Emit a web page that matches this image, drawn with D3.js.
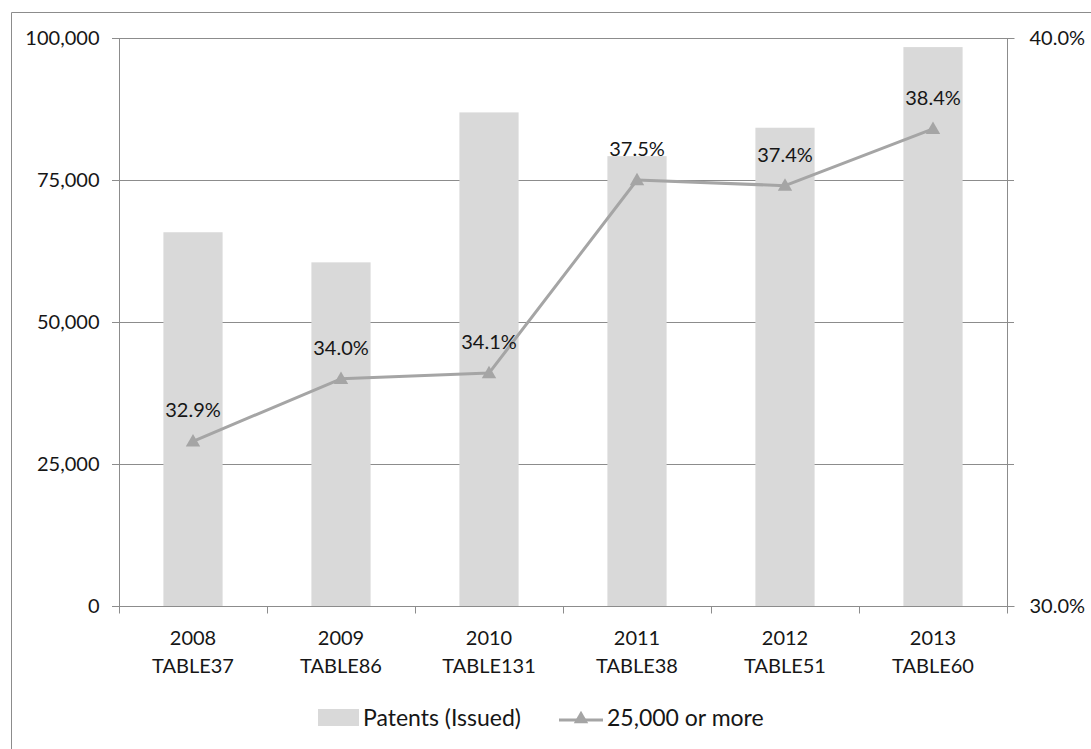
<!DOCTYPE html>
<html>
<head>
<meta charset="utf-8">
<script src="https://cdn.jsdelivr.net/npm/d3@7"></script>
<style>
  html, body { margin: 0; padding: 0; background: #fff; }
  svg { display: block; font-family: Lato, "Open Sans", sans-serif; }
</style>
</head>
<body>
<svg id="chart" width="1091" height="749"></svg>
<script>
// Patents issued per year and share of "25,000 or more"
const years = ["2008", "2009", "2010", "2011", "2012", "2013"];
const tables = ["TABLE37", "TABLE86", "TABLE131", "TABLE38", "TABLE51", "TABLE60"];
const patentsIssued = [65800, 60500, 86900, 79200, 84200, 98400];
const share25kOrMore = [32.9, 34.0, 34.1, 37.5, 37.4, 38.4];
const leftTicks = [0, 25000, 50000, 75000, 100000];
const rightTicks = [30, 40];
const legendLabels = ["Patents (Issued)", "25,000 or more"];

const svg = d3.select("#chart");
const plot = { left: 119, top: 38, right: 1007, bottom: 606 };

const barColor = "#d9d9d9";
const lineColor = "#a5a5a5";
const gridColor = "#8c8c8c";
const textColor = "#161616";
const fontSize = 20;
const legendFont = 23;

// outer chart frame (left and top edges)
svg.append("path")
  .attr("d", `M11.5,749 V12.5 H1091`)
  .attr("fill", "none").attr("stroke", "#8c8c8c").attr("stroke-width", 1);

const x = d3.scaleBand().domain(years).range([plot.left, plot.right]).paddingInner(0.6).paddingOuter(0.3);
const yL = d3.scaleLinear().domain([0, 100000]).range([plot.bottom, plot.top]);
const yR = d3.scaleLinear().domain([30, 40]).range([plot.bottom, plot.top]);

// horizontal gridlines
svg.append("g").selectAll("line").data(leftTicks.filter(d => d > 0)).join("line")
  .attr("x1", plot.left - 7).attr("x2", plot.right + 7)
  .attr("y1", d => Math.round(yL(d)) + 0.5).attr("y2", d => Math.round(yL(d)) + 0.5)
  .attr("stroke", gridColor).attr("stroke-width", 1);

// bars
svg.append("g").selectAll("rect").data(patentsIssued).join("rect")
  .attr("x", (d, i) => x(years[i]))
  .attr("width", x.bandwidth())
  .attr("y", d => yL(d))
  .attr("height", d => yL(0) - yL(d))
  .attr("fill", barColor);

// left axis
const leftAxis = d3.axisLeft(yL).tickValues(leftTicks).tickSize(7).tickPadding(13)
  .tickFormat(d3.format(","));
const gL = svg.append("g").attr("transform", `translate(${plot.left + 0.5},0)`).call(leftAxis);
gL.select(".domain").attr("stroke", gridColor).attr("d", `M0,${plot.top}V${plot.bottom}`);
gL.selectAll(".tick line").attr("stroke", gridColor);
gL.selectAll("text").attr("fill", textColor).attr("font-size", fontSize).attr("font-family", "Lato, sans-serif");

// right axis
const rightAxis = d3.axisRight(yR).tickValues(rightTicks).tickSize(7).tickPadding(15)
  .tickFormat(d => d.toFixed(1) + "%");
const gR = svg.append("g").attr("transform", `translate(${plot.right + 0.5},0)`).call(rightAxis);
gR.select(".domain").attr("stroke", gridColor).attr("d", `M0,${plot.top}V${plot.bottom}`);
gR.selectAll(".tick line").attr("stroke", gridColor);
gR.selectAll("text").attr("fill", textColor).attr("font-size", fontSize).attr("font-family", "Lato, sans-serif");

// bottom axis with ticks at category boundaries
const gB = svg.append("g").attr("transform", `translate(0,${plot.bottom + 0.5})`);
gB.append("line").attr("x1", plot.left - 7).attr("x2", plot.right + 7).attr("y1", 0).attr("y2", 0)
  .attr("stroke", gridColor);
const boundaries = d3.range(years.length + 1).map(i => plot.left + i * (plot.right - plot.left) / years.length);
gB.selectAll("line.tk").data(boundaries).join("line").attr("class", "tk")
  .attr("x1", d => Math.round(d) + 0.5).attr("x2", d => Math.round(d) + 0.5)
  .attr("y1", 0).attr("y2", 7).attr("stroke", gridColor);
const lbl = gB.selectAll("text").data(years).join("text")
  .attr("text-anchor", "middle")
  .attr("fill", textColor).attr("font-size", fontSize)
  .attr("transform", d => `translate(${x(d) + x.bandwidth() / 2},0)`);
lbl.append("tspan").attr("x", 0).attr("y", 38).text(d => d);
lbl.append("tspan").attr("x", 0).attr("y", 66).text((d, i) => tables[i]);

// share line
const cx = (d, i) => x(years[i]) + x.bandwidth() / 2;
const line = d3.line().x(cx).y(d => yR(d));
svg.append("path").datum(share25kOrMore)
  .attr("d", line).attr("fill", "none")
  .attr("stroke", lineColor).attr("stroke-width", 3).attr("stroke-linejoin", "round");

const tri = d3.symbol().type(d3.symbolTriangle).size(90);
svg.append("g").selectAll("path").data(share25kOrMore).join("path")
  .attr("d", tri)
  .attr("transform", (d, i) => `translate(${cx(d, i)},${yR(d) + 1})`)
  .attr("fill", lineColor);

// value labels
svg.append("g").selectAll("text").data(share25kOrMore).join("text")
  .attr("x", cx).attr("y", d => yR(d) - 24)
  .attr("text-anchor", "middle").attr("fill", textColor).attr("font-size", fontSize)
  .text(d => d.toFixed(1) + "%");

// legend
const lg = svg.append("g");
lg.append("rect").attr("x", 318).attr("y", 709).attr("width", 41).attr("height", 17).attr("fill", barColor);
lg.append("text").attr("x", 363).attr("y", 726).attr("fill", textColor).attr("font-size", legendFont)
  .text(legendLabels[0]);
lg.append("line").attr("x1", 559).attr("x2", 603).attr("y1", 720).attr("y2", 720)
  .attr("stroke", lineColor).attr("stroke-width", 3);
lg.append("path").attr("d", tri).attr("transform", "translate(581,719)").attr("fill", lineColor);
lg.append("text").attr("x", 607).attr("y", 726).attr("fill", textColor).attr("font-size", legendFont)
  .text(legendLabels[1]);
</script>
</body>
</html>
